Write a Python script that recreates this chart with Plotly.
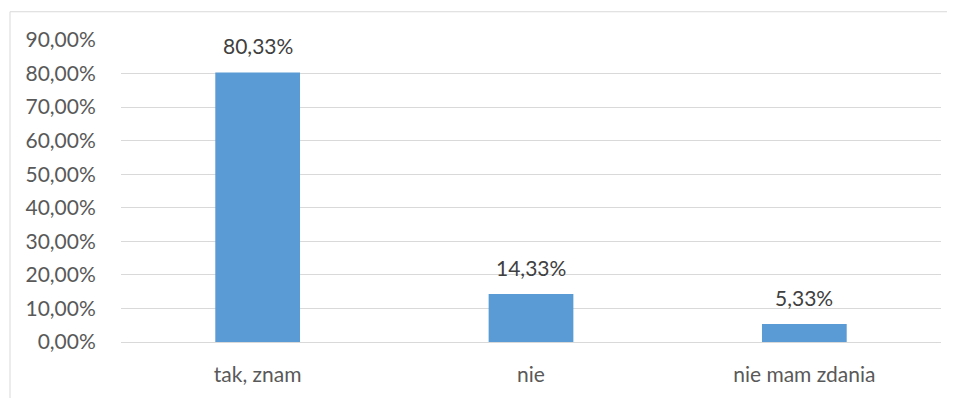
import plotly.graph_objects as go

categories = ["tak, znam", "nie", "nie mam zdania"]
values = [80.33, 14.33, 5.33]
tick_vals = [0, 10, 20, 30, 40, 50, 60, 70, 80, 90]
tick_text = ["0,00%", "10,00%", "20,00%", "30,00%", "40,00%", "50,00%",
             "60,00%", "70,00%", "80,00%", "90,00%"]
bar_labels = ["80,33%", "14,33%", "5,33%"]

# page body has an 8px margin, so the figure is shifted by 8px
OFF = 8
W, H = 955 - OFF, 398 - OFF
L, R, T, B = 121 - OFF, 14, 40 - OFF, 48
pw, ph = W - L - R, H - T - B

fig = go.Figure(go.Bar(
    x=categories, y=values,
    marker=dict(color="#5B9BD5", line=dict(width=0)),
    width=0.31,
))

for c, v, t in zip(categories, values, bar_labels):
    fig.add_annotation(x=c, y=v, text=t, showarrow=False,
                       yanchor="bottom", yshift=12,
                       font=dict(color="#404040", size=21))

grid = "#D9D9D9"
fig.update_layout(
    width=W, height=H,
    margin=dict(l=L, r=R, t=T, b=B),
    paper_bgcolor="white", plot_bgcolor="white",
    font=dict(family="Lato, Carlito, sans-serif", color="#595959", size=21),
    showlegend=False,
    xaxis=dict(showgrid=False, showline=True, linecolor=grid, linewidth=1,
               ticks="outside", ticklen=14, tickcolor="rgba(0,0,0,0)",
               tickfont=dict(size=21)),
    yaxis=dict(range=[0, 90], tickvals=tick_vals, ticktext=tick_text,
               showgrid=True, gridcolor=grid, gridwidth=1,
               zeroline=False, showline=False,
               ticks="outside", ticklen=20, tickcolor="rgba(0,0,0,0)",
               tickfont=dict(size=21)),
    shapes=[
        dict(type="line", xref="paper", yref="paper",
             x0=(10 - OFF - L) / pw, x1=(10 - OFF - L) / pw,
             y0=(H - B - (11 - OFF)) / ph, y1=-0.3,
             line=dict(color=grid, width=1)),
        dict(type="line", xref="paper", yref="paper",
             x0=(10 - OFF - L) / pw, x1=1.2,
             y0=(H - B - (11 - OFF)) / ph, y1=(H - B - (11 - OFF)) / ph,
             line=dict(color=grid, width=1)),
    ],
)

fig.write_html("out.html")
